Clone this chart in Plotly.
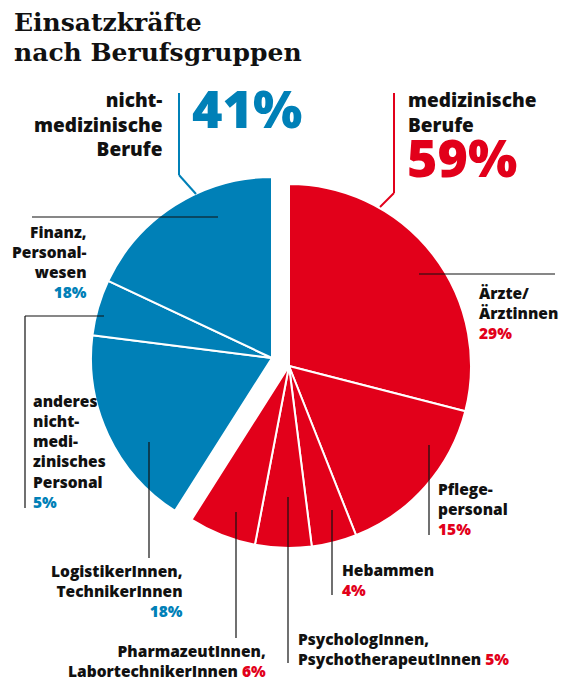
import plotly.graph_objects as go

# Einsatzkräfte nach Berufsgruppen, values in percent

W, H = 569, 688
PAD = 8          # default body margin of the html page
FW, FH = W - PAD, H - PAD

red_names = ["Ärzte/<br>Ärztinnen", "Pflege-<br>personal", "Hebammen",
             "PsychologInnen,<br>PsychotherapeutInnen",
             "PharmazeutInnen,<br>LabortechnikerInnen"]
red_values = [29, 15, 4, 5, 6]

blue_names = ["LogistikerInnen,<br>TechnikerInnen",
              "anderes<br>nicht-<br>medi-<br>zinisches<br>Personal",
              "Finanz,<br>Personal-<br>wesen"]
blue_values = [18, 5, 18]

red_group = "medizinische<br>Berufe"
blue_group = "nicht-<br>medizinische<br>Berufe"

RED = "#e2001a"
BLUE = "#0080b7"
INK = "#111111"
CLEAR = "rgba(0,0,0,0)"
FONT = "Open Sans"

red_total = sum(red_values)
blue_total = sum(blue_values)


# screen pixel -> paper
def px(x): return (x - PAD) / FW
def py(y): return 1 - (y - PAD) / FH


def dom(cx, cy, r):
    return dict(x=[px(cx - r), px(cx + r)], y=[py(cy + r), py(cy - r)])


fig = go.Figure()

# two pies so each group can be shifted as a whole
fig.add_trace(go.Pie(
    values=red_values + [blue_total],
    labels=["r%d" % i for i in range(len(red_values))] + ["r_rest"],
    sort=False, direction="clockwise", rotation=0,
    marker=dict(colors=[RED] * len(red_values) + [CLEAR],
                line=dict(color="white", width=[2] * len(red_values) + [0])),
    textinfo="none", hoverinfo="skip", showlegend=False,
    domain=dom(289, 366, 182),
))
fig.add_trace(go.Pie(
    values=[red_total] + blue_values,
    labels=["b_rest"] + ["b%d" % i for i in range(len(blue_values))],
    sort=False, direction="clockwise", rotation=0,
    marker=dict(colors=[CLEAR] + [BLUE] * len(blue_values),
                line=dict(color="white", width=[0] + [2] * len(blue_values))),
    textinfo="none", hoverinfo="skip", showlegend=False,
    domain=dom(272, 358, 181),
))

annotations = []


def text(s, x, base, anchor, size, color=INK, family=FONT, weight=800):
    # base = pixel baseline of first line
    annotations.append(dict(
        text=s, xref="paper", yref="paper", showarrow=False,
        x=px(x), y=py(base - 1.1 * size - 1.5), xanchor=anchor, yanchor="top",
        align=anchor,
        font=dict(family=family, size=size, color=color, weight=weight),
    ))


def pct(v, color):
    return "<span style='color:%s'>%d%%</span>" % (color, v)


# title
text("Einsatzkräfte", 12, 35, "left", 25, family="DejaVu Serif", weight=700)
text("nach Berufsgruppen", 12, 65, "left", 25, family="DejaVu Serif", weight=700)

# group headers
text(blue_group, 164, 107, "right", 19)
text("%d%%" % blue_total, 190, 129, "left", 52, color=BLUE)
text(red_group, 406, 107, "left", 19)
text("%d%%" % red_total, 405, 178, "left", 52, color=RED)

# slice labels
S = 15.5
text(red_names[0] + "<br>" + pct(red_values[0], RED), 477, 299, "left", S)
text(red_names[1] + "<br>" + pct(red_values[1], RED), 436, 495, "left", S)
text(red_names[2] + "<br>" + pct(red_values[2], RED), 340, 576, "left", S)
text(red_names[3] + " " + pct(red_values[3], RED), 296, 645, "left", S)
text(red_names[4] + " " + pct(red_values[4], RED), 268, 657, "right", S)
text(blue_names[0] + "<br>" + pct(blue_values[0], BLUE), 185, 577, "right", S)
text(blue_names[1] + "<br>" + pct(blue_values[1], BLUE), 31, 407, "left", S)
text(blue_names[2] + "<br>" + pct(blue_values[2], BLUE), 89, 238, "right", S)

# leader lines
shapes = []


def lead(pts, color=INK, width=1.2):
    for (x0, y0), (x1, y1) in zip(pts[:-1], pts[1:]):
        shapes.append(dict(type="line", xref="paper", yref="paper",
                           x0=px(x0), y0=py(y0), x1=px(x1), y1=py(y1),
                           line=dict(color=color, width=width)))


lead([(32, 217), (218, 217)])
lead([(419, 274), (555, 274)])
lead([(104, 316), (25, 316), (25, 508)])
lead([(149, 442), (149, 558)])
lead([(236, 512), (236, 638)])
lead([(288, 497), (288, 663)])
lead([(332, 510), (332, 595)])
lead([(429, 445), (429, 535)])
lead([(179, 93), (179, 175), (196, 194)], color=BLUE, width=2)
lead([(394, 93), (394, 193), (380, 207)], color=RED, width=2)

fig.update_layout(
    width=FW, height=FH,
    margin=dict(l=0, r=0, t=0, b=0),
    paper_bgcolor="white", plot_bgcolor="white",
    annotations=annotations, shapes=shapes,
    showlegend=False,
)

fig.write_html("out.html")
